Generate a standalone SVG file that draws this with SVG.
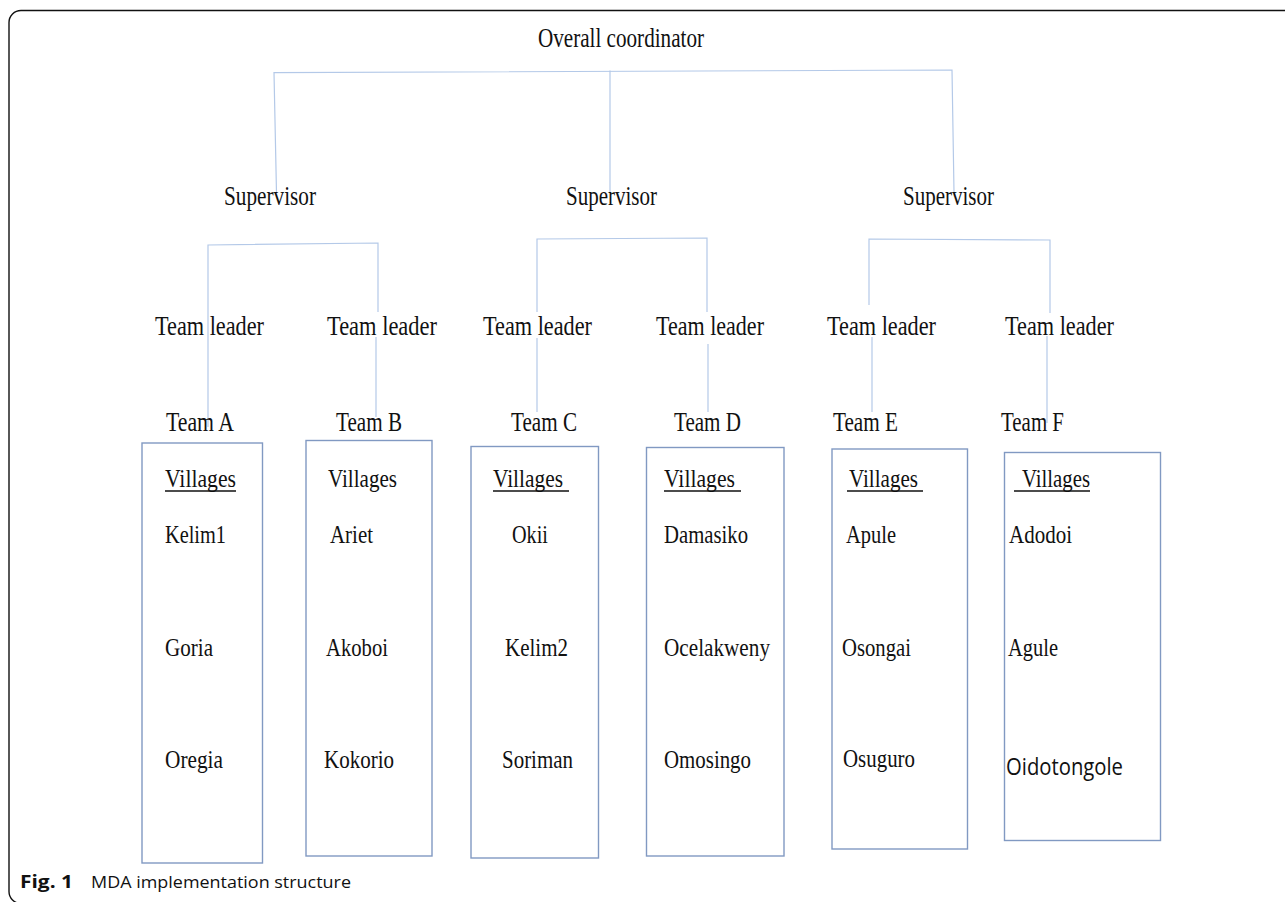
<svg xmlns="http://www.w3.org/2000/svg" width="1285" height="902" viewBox="0 0 1285 902">
<style>
.t{font-family:"Liberation Serif","Times New Roman",serif;fill:#111}
.h{font-size:28px}
.m{font-size:27px}
.v{font-size:26px}
.s{font-family:"Open Sans","Liberation Sans",sans-serif;fill:#111}
.box{fill:none;stroke:#8199c2;stroke-width:1.4}
.con{fill:none;stroke:#b4c9e8;stroke-width:1.2}
.ul{stroke:#111;stroke-width:1.4}
.frame{fill:none;stroke:#111;stroke-width:1.4}
</style>
<rect width="1285" height="902" fill="#fff"/>
<rect class="frame" x="9" y="10.5" width="1300" height="893" rx="12"/>

<g id="connectors">
<path class="con" d="M276.5,193 L274,72.7 L952,70 L954,192"/>
<path class="con" d="M610,70.5 L610,193"/>
<path class="con" d="M208,427 L208,245 L378,243 L378,312"/>
<path class="con" d="M376,337 L376,417"/>
<path class="con" d="M537,312 L537,239 L707,238 L707,312"/>
<path class="con" d="M537,338 L537,412"/>
<path class="con" d="M708,344 L708,412"/>
<path class="con" d="M869,305 L869,239 L1050,240 L1050,313"/>
<path class="con" d="M872,337 L872,412"/>
<path class="con" d="M1047,336 L1047,423"/>
</g>

<g id="coordinator">
<text class="t h" x="538" y="47" textLength="166" lengthAdjust="spacingAndGlyphs">Overall coordinator</text>
</g>

<g id="supervisor1"><text class="t h" x="224" y="205" textLength="92" lengthAdjust="spacingAndGlyphs">Supervisor</text></g>
<g id="supervisor2"><text class="t h" x="566" y="205" textLength="91" lengthAdjust="spacingAndGlyphs">Supervisor</text></g>
<g id="supervisor3"><text class="t h" x="903" y="205" textLength="91" lengthAdjust="spacingAndGlyphs">Supervisor</text></g>

<g id="leader1"><text class="t m" x="155" y="335" textLength="109" lengthAdjust="spacingAndGlyphs">Team leader</text></g>
<g id="leader2"><text class="t m" x="327" y="335" textLength="110" lengthAdjust="spacingAndGlyphs">Team leader</text></g>
<g id="leader3"><text class="t m" x="483" y="335" textLength="109" lengthAdjust="spacingAndGlyphs">Team leader</text></g>
<g id="leader4"><text class="t m" x="656" y="335" textLength="108" lengthAdjust="spacingAndGlyphs">Team leader</text></g>
<g id="leader5"><text class="t m" x="827" y="335" textLength="109" lengthAdjust="spacingAndGlyphs">Team leader</text></g>
<g id="leader6"><text class="t m" x="1005" y="335" textLength="109" lengthAdjust="spacingAndGlyphs">Team leader</text></g>

<g id="teamA">
<text class="t m" x="166" y="431" textLength="68" lengthAdjust="spacingAndGlyphs">Team A</text>
<rect class="box" x="142" y="443" width="120.5" height="420"/>
<text class="t v" x="165" y="487" textLength="71" lengthAdjust="spacingAndGlyphs">Villages</text>
<line class="ul" x1="165" y1="491" x2="236" y2="491"/>
<text class="t v" x="165" y="543" textLength="61" lengthAdjust="spacingAndGlyphs">Kelim1</text>
<text class="t v" x="165" y="656" textLength="48" lengthAdjust="spacingAndGlyphs">Goria</text>
<text class="t v" x="165" y="768" textLength="58" lengthAdjust="spacingAndGlyphs">Oregia</text>
</g>

<g id="teamB">
<text class="t m" x="336" y="431" textLength="66" lengthAdjust="spacingAndGlyphs">Team B</text>
<rect class="box" x="306" y="440.5" width="126" height="415.5"/>
<text class="t v" x="328" y="487" textLength="69" lengthAdjust="spacingAndGlyphs">Villages</text>
<text class="t v" x="330" y="543" textLength="43" lengthAdjust="spacingAndGlyphs">Ariet</text>
<text class="t v" x="326" y="656" textLength="62" lengthAdjust="spacingAndGlyphs">Akoboi</text>
<text class="t v" x="324" y="768" textLength="70" lengthAdjust="spacingAndGlyphs">Kokorio</text>
</g>

<g id="teamC">
<text class="t m" x="511" y="431" textLength="66" lengthAdjust="spacingAndGlyphs">Team C</text>
<rect class="box" x="471" y="446.5" width="127.5" height="411.5"/>
<text class="t v" x="493" y="487" textLength="70" lengthAdjust="spacingAndGlyphs">Villages</text>
<line class="ul" x1="493" y1="491" x2="569" y2="491"/>
<text class="t v" x="512" y="543" textLength="36" lengthAdjust="spacingAndGlyphs">Okii</text>
<text class="t v" x="505" y="656" textLength="63" lengthAdjust="spacingAndGlyphs">Kelim2</text>
<text class="t v" x="502" y="768" textLength="71" lengthAdjust="spacingAndGlyphs">Soriman</text>
</g>

<g id="teamD">
<text class="t m" x="674" y="431" textLength="67" lengthAdjust="spacingAndGlyphs">Team D</text>
<rect class="box" x="646.5" y="447.5" width="137.5" height="408.5"/>
<text class="t v" x="664" y="487" textLength="71" lengthAdjust="spacingAndGlyphs">Villages</text>
<line class="ul" x1="664" y1="491" x2="741" y2="491"/>
<text class="t v" x="664" y="543" textLength="84" lengthAdjust="spacingAndGlyphs">Damasiko</text>
<text class="t v" x="664" y="656" textLength="106" lengthAdjust="spacingAndGlyphs">Ocelakweny</text>
<text class="t v" x="664" y="768" textLength="87" lengthAdjust="spacingAndGlyphs">Omosingo</text>
</g>

<g id="teamE">
<text class="t m" x="833" y="431" textLength="65" lengthAdjust="spacingAndGlyphs">Team E</text>
<rect class="box" x="832" y="449" width="135.5" height="400"/>
<text class="t v" x="849" y="487" textLength="69" lengthAdjust="spacingAndGlyphs">Villages</text>
<line class="ul" x1="847" y1="491" x2="923" y2="491"/>
<text class="t v" x="846" y="543" textLength="50" lengthAdjust="spacingAndGlyphs">Apule</text>
<text class="t v" x="842" y="656" textLength="69" lengthAdjust="spacingAndGlyphs">Osongai</text>
<text class="t v" x="843" y="767" textLength="72" lengthAdjust="spacingAndGlyphs">Osuguro</text>
</g>

<g id="teamF">
<text class="t m" x="1001" y="431" textLength="63" lengthAdjust="spacingAndGlyphs">Team F</text>
<rect class="box" x="1004.5" y="452.5" width="156" height="388"/>
<text class="t v" x="1022" y="487" textLength="68" lengthAdjust="spacingAndGlyphs">Villages</text>
<line class="ul" x1="1014" y1="491" x2="1090" y2="491"/>
<text class="t v" x="1009" y="543" textLength="63" lengthAdjust="spacingAndGlyphs">Adodoi</text>
<text class="t v" x="1008" y="656" textLength="50" lengthAdjust="spacingAndGlyphs">Agule</text>
<text class="s" x="1006" y="775" font-size="23" textLength="117" lengthAdjust="spacingAndGlyphs">Oidotongole</text>
</g>

<g id="caption">
<text class="s" x="20" y="888" font-size="17" font-weight="bold" textLength="53" lengthAdjust="spacingAndGlyphs">Fig. 1</text>
<text class="s" x="91" y="888" font-size="17" textLength="260" lengthAdjust="spacingAndGlyphs">MDA implementation structure</text>
</g>
</svg>
